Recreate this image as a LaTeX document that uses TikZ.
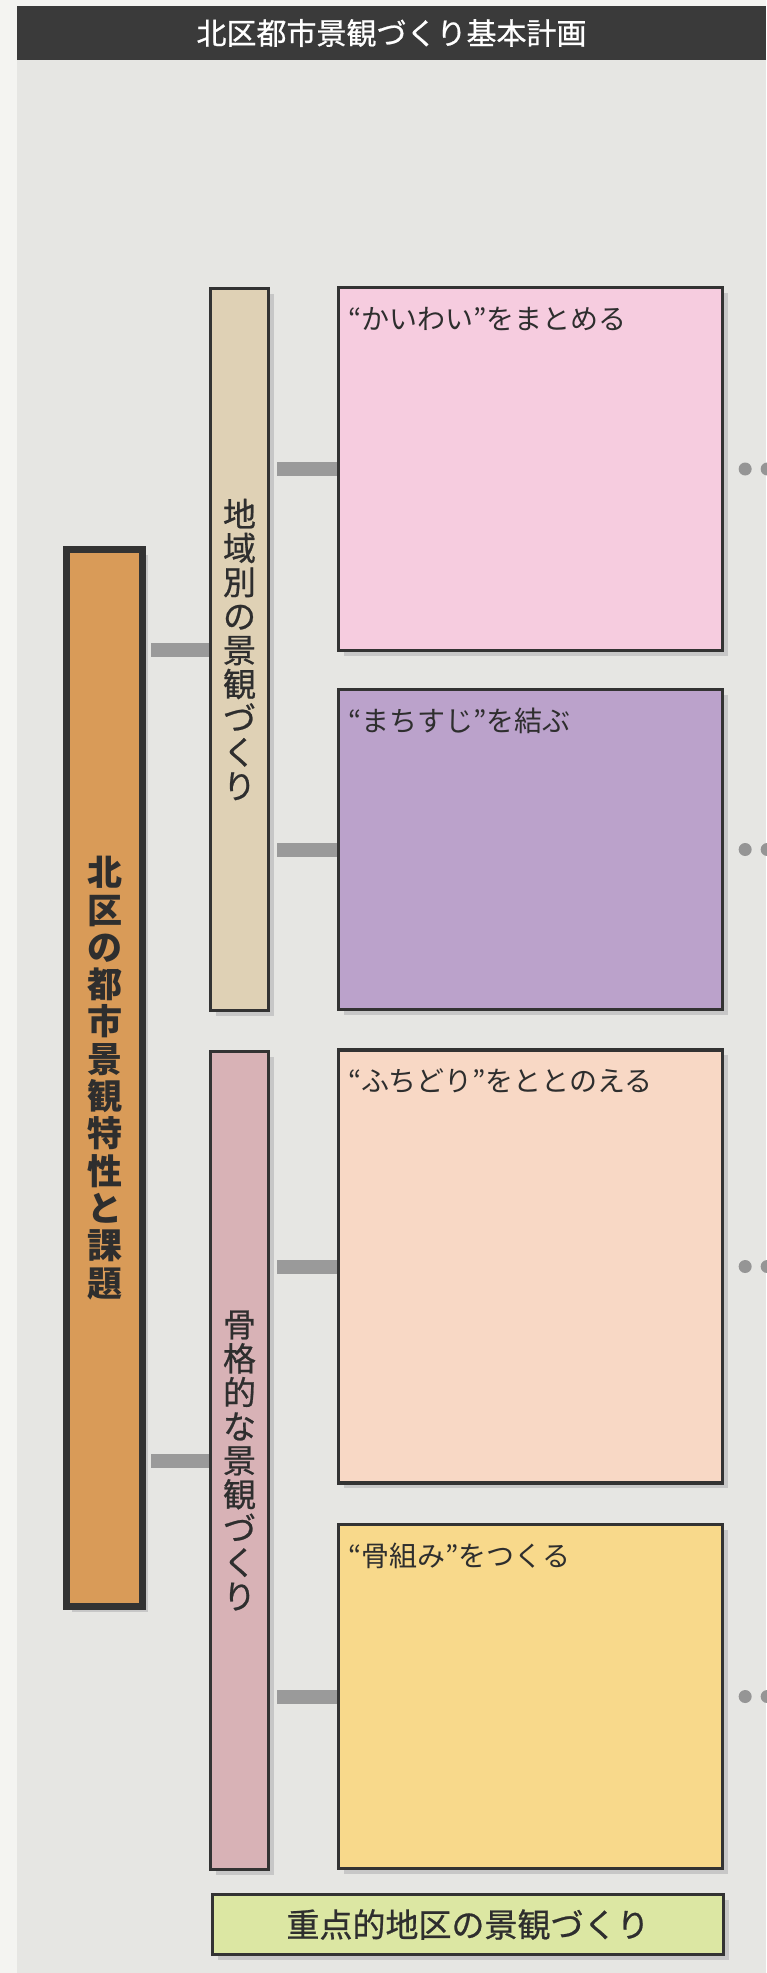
\documentclass[tikz,border=0pt]{standalone}
\usepackage{fontspec}
\newfontfamily\jp{Noto Sans CJK JP}
\newfontfamily\jpm{Noto Sans CJK JP}[FakeBold=0.7]
\usetikzlibrary{shadows,calc}
\definecolor{pagewhite}{HTML}{F4F4F1}
\definecolor{panel}{HTML}{E6E6E3}
\definecolor{titlebg}{HTML}{3A3A3A}
\definecolor{borderc}{HTML}{333333}
\definecolor{textc}{HTML}{2E2E2E}
\definecolor{connc}{HTML}{9A9A9A}
\definecolor{dotc}{HTML}{959595}
\definecolor{orangeb}{HTML}{D99B58}
\definecolor{tanb}{HTML}{DFD1B5}
\definecolor{mauveb}{HTML}{D8B2B6}
\definecolor{pinkb}{HTML}{F6CCDF}
\definecolor{purpleb}{HTML}{BBA2CB}
\definecolor{peachb}{HTML}{F8D8C5}
\definecolor{yellowb}{HTML}{F8D98B}
\definecolor{greenb}{HTML}{DCE7A3}
\tikzset{
  boxbase/.style={draw=borderc, line width=3.3pt, inner sep=0pt, text=textc,
    drop shadow={shadow xshift=5pt, shadow yshift=-5pt, fill=black!22, opacity=1}},
  bigbox/.style={boxbase, minimum width=384pt},
  midbox/.style={boxbase, minimum width=58pt, align=center,
    font=\jpm\fontsize{33}{34}\selectfont},
  mainbox/.style={boxbase, line width=7pt, minimum width=76pt, minimum height=1057pt,
    align=center, font=\jp\bfseries\fontsize{35}{37.3}\selectfont},
  lbl/.style={anchor=west, inner sep=0pt, text=textc, font=\jp\fontsize{28}{30}\selectfont},
  conn/.style={draw=connc, line width=14pt},
  dotn/.style={circle, fill=dotc, minimum size=13pt, inner sep=0pt}
}
\begin{document}
\begin{tikzpicture}[x=1pt,y=-1pt]
\useasboundingbox (0,0) rectangle (766,1973);
\fill[pagewhite] (0,0) rectangle (766,1973);
\fill[panel] (17,60) rectangle (766,1973);
\node[fill=titlebg, minimum width=749pt, minimum height=54pt, inner sep=0pt,
  text=white, font=\jpm\fontsize{30}{32}\selectfont] (title) at (391.5,33) {北区都市景観づくり基本計画};

\node[mainbox, fill=orangeb] (main) at (104.5,1078) {北\\区\\の\\都\\市\\景\\観\\特\\性\\と\\課\\題};
\node[midbox, fill=tanb, minimum height=722pt] (tan) at (239.5,649.5) {地\\域\\別\\の\\景\\観\\づ\\く\\り};
\node[midbox, fill=mauveb, minimum height=818pt] (mauve) at (239.5,1460.5) {骨\\格\\的\\な\\景\\観\\づ\\く\\り};

\node[bigbox, fill=pinkb, minimum height=363pt] (pink) at (530.5,469) {};
\node[bigbox, fill=purpleb, minimum height=320pt] (purple) at (530.5,849.5) {};
\node[bigbox, fill=peachb, minimum height=433pt] (peach) at (530.5,1266.5) {};
\node[bigbox, fill=yellowb, minimum height=344pt] (yellow) at (530.5,1696.5) {};
\node[boxbase, fill=greenb, minimum width=511pt, minimum height=60pt,
  font=\jpm\fontsize{33}{35}\selectfont] (green) at (468,1924.5) {重点的地区の景観づくり};

\draw[conn] (main.east |- tan.west) ++(5,0) -- (tan.west);
\draw[conn] (main.east |- mauve.west) ++(5,0) -- (mauve.west);
\draw[conn] (tan.east |- pink.west) ++(7,0) -- (pink.west);
\draw[conn] (tan.east |- purple.west) ++(7,0) -- (purple.west);
\draw[conn] (mauve.east |- peach.west) ++(7,0) -- (peach.west);
\draw[conn] (mauve.east |- yellow.west) ++(7,0) -- (yellow.west);

\node[lbl] (pinkl) at ($(pink.north west)+(11,33)$) {“かいわい”をまとめる};
\node[lbl] (purplel) at ($(purple.north west)+(11,33)$) {“まちすじ”を結ぶ};
\node[lbl] (peachl) at ($(peach.north west)+(11,33)$) {“ふちどり”をととのえる};
\node[lbl] (yellowl) at ($(yellow.north west)+(11,33)$) {“骨組み”をつくる};

\foreach \b in {pink,purple,peach,yellow}{
  \node[dotn] (\b d1) at ($(\b.east)+(21,0)$) {};
  \node[dotn] (\b d2) at ($(\b.east)+(43,0)$) {};
}
\end{tikzpicture}
\end{document}
